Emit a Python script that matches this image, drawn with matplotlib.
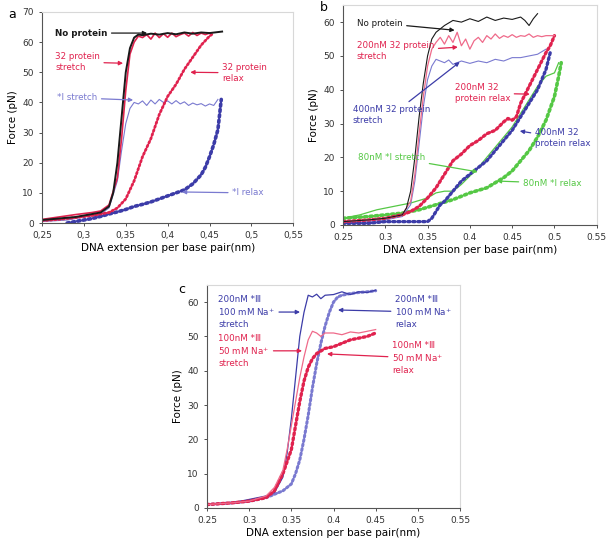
import matplotlib.pyplot as plt

# цвета
BLACK = '#1a1a1a'
RED = '#e0224e'
PINK = '#ef6a8a'
BLUE = '#3c3ca8'
LBLUE = '#7a7ad0'
GREEN = '#55c845'

XTICKS = [0.25, 0.3, 0.35, 0.4, 0.45, 0.5, 0.55]
XTICK_LABELS_A = ['0,25', '0,3', '0,35', '0,4', '0,45', '0,5', '0,55']
XTICK_LABELS = ['0.25', '0.3', '0.35', '0.4', '0.45', '0.5', '0.55']

# ---- панель a ----
a_noprot_x = [0.25, 0.27, 0.29, 0.31, 0.32, 0.33, 0.335, 0.34, 0.345, 0.35, 0.355, 0.36, 0.365, 0.37,
              0.38, 0.39, 0.40, 0.41, 0.42, 0.43, 0.44, 0.45, 0.465]
a_noprot_f = [1, 1.5, 2, 3, 3.5, 5.5, 10, 20, 35, 50, 58, 61.5, 62.5, 62.3,
              62.8, 62.5, 63, 62.6, 63.2, 62.8, 63.2, 63, 63.5]
a_p32s_x = [0.25, 0.27, 0.29, 0.31, 0.32, 0.33, 0.34, 0.345, 0.35, 0.355, 0.36, 0.365, 0.37, 0.375, 0.38,
            0.385, 0.39, 0.395, 0.40, 0.405, 0.41, 0.415, 0.42, 0.425, 0.43, 0.435, 0.44, 0.445, 0.45]
a_p32s_f = [1.2, 2, 2.8, 3.5, 4, 6, 15, 28, 44, 56, 60, 62, 61.5, 62.5, 61,
            63, 61.5, 62.8, 61.6, 63, 61.8, 62.5, 63, 62, 63.2, 62.2, 63, 62.5, 63]
a_p32r_x = [0.25, 0.27, 0.29, 0.31, 0.33, 0.34, 0.35, 0.355, 0.36, 0.365, 0.37, 0.375, 0.38, 0.385,
            0.39, 0.395, 0.40, 0.41, 0.42, 0.43, 0.44, 0.45, 0.455]
a_p32r_f = [0.8, 1.2, 1.8, 2.5, 3.5, 5, 8, 11, 14, 18, 22, 25, 28, 32,
            36, 39, 42, 46, 51, 55, 59, 62, 63]
a_is_x = [0.25, 0.28, 0.30, 0.32, 0.33, 0.34, 0.345, 0.35, 0.355, 0.36, 0.365, 0.37, 0.375, 0.38, 0.385,
          0.39, 0.395, 0.40, 0.405, 0.41, 0.415, 0.42, 0.425, 0.43, 0.435, 0.44, 0.445, 0.45, 0.455, 0.46]
a_is_f = [0.5, 1, 2, 3, 5, 14, 24, 33, 38, 40, 39.5, 40.5, 39, 40.8, 39.5,
          41, 40, 40.5, 39.5, 40.6, 39.5, 40.2, 39, 39.8, 39.2, 39.6, 38.8, 39.5, 39, 41]
a_ir_x = [0.28, 0.29, 0.30, 0.31, 0.32, 0.33, 0.34, 0.35, 0.36, 0.37, 0.38, 0.39, 0.40, 0.41, 0.42,
          0.43, 0.44, 0.445, 0.45, 0.455, 0.46, 0.462, 0.464]
a_ir_f = [0, 0.5, 1, 1.5, 2.2, 3, 3.7, 4.5, 5.5, 6.2, 7, 8, 9, 10, 11,
          13, 16, 18.5, 22, 26, 31, 36, 41]

# ---- панель b ----
b_noprot_x = [0.25, 0.28, 0.30, 0.32, 0.325, 0.33, 0.335, 0.34, 0.345, 0.35, 0.355, 0.36, 0.365, 0.37,
              0.38, 0.39, 0.40, 0.41, 0.42, 0.43, 0.44, 0.45, 0.46, 0.465, 0.47, 0.475, 0.48]
b_noprot_f = [1, 1.5, 2, 3, 5, 10, 20, 32, 42, 50, 55, 57, 58, 59,
              60.5, 60, 61, 60.2, 61.5, 60.5, 61.2, 60.8, 61.5, 60.5, 59, 61, 62.5]
b_200s_x = [0.25, 0.28, 0.30, 0.32, 0.33, 0.335, 0.34, 0.345, 0.35, 0.355, 0.36, 0.365, 0.37, 0.375,
            0.38, 0.385, 0.39, 0.395, 0.40, 0.405, 0.41, 0.415, 0.42, 0.425, 0.43, 0.435, 0.44, 0.445,
            0.45, 0.455, 0.46, 0.465, 0.47, 0.475, 0.48, 0.485, 0.49, 0.5]
b_200s_f = [1, 1.5, 2, 3, 7, 15, 27, 38, 47, 52, 54, 55.5, 53.5, 56,
            54, 57, 53, 55, 52, 54.5, 55.5, 54, 56, 55, 56.5, 55.2, 56, 55.5,
            56.3, 55.5, 56, 55.8, 56.5, 55.5, 56, 55.7, 56, 56]
b_400s_x = [0.25, 0.28, 0.30, 0.32, 0.33, 0.335, 0.34, 0.345, 0.35, 0.355, 0.36, 0.365, 0.37, 0.375,
            0.38, 0.39, 0.40, 0.41, 0.42, 0.43, 0.44, 0.45, 0.46, 0.47, 0.48, 0.49]
b_400s_f = [0.5, 1, 1.5, 2.5, 6, 13, 24, 35, 43, 47, 49, 48.5, 48, 48.8,
            47.5, 48.5, 47.8, 48.5, 48, 49, 48.5, 49.5, 49.5, 50, 50.5, 52]
b_200r_x = [0.25, 0.28, 0.30, 0.32, 0.33, 0.34, 0.35, 0.36, 0.37, 0.375, 0.38, 0.385, 0.39, 0.40,
            0.41, 0.42, 0.43, 0.44, 0.445, 0.45, 0.455, 0.46, 0.47, 0.48, 0.49, 0.495, 0.5]
b_200r_f = [1, 1.5, 2, 3, 4, 5.5, 8, 11, 15, 17, 19, 20, 21, 23.5,
            25, 27, 28, 30.5, 31.5, 31, 32, 36, 41, 46, 51, 53, 56]
b_400r_x = [0.25, 0.28, 0.30, 0.32, 0.34, 0.35, 0.355, 0.36, 0.365, 0.37, 0.38, 0.39, 0.40, 0.41,
            0.42, 0.43, 0.44, 0.45, 0.46, 0.47, 0.48, 0.49, 0.495]
b_400r_f = [0.5, 0.5, 1, 1, 1, 1, 2, 4, 6, 7, 10, 13, 15, 17,
            19, 22, 25, 28, 32, 36, 40, 46, 51]
b_80s_x = [0.25, 0.27, 0.29, 0.31, 0.33, 0.35, 0.36, 0.37, 0.38, 0.39, 0.40, 0.41, 0.42, 0.43,
           0.44, 0.45, 0.46, 0.47, 0.48, 0.49, 0.5, 0.505]
b_80s_f = [2, 3, 4.5, 5.5, 6.5, 8, 9.5, 10, 10, 12, 14.5, 17, 20, 23,
           26, 29, 33, 37, 41, 44, 45, 48]
b_80r_x = [0.25, 0.28, 0.30, 0.32, 0.34, 0.36, 0.38, 0.40, 0.42, 0.43, 0.44, 0.45, 0.46, 0.47,
           0.48, 0.49, 0.50, 0.505, 0.508]
b_80r_f = [2, 2.5, 3, 3.5, 4.5, 6, 7.5, 9.5, 11, 12.5, 14, 16, 19, 22,
           26, 31, 38, 44, 48]

# ---- панель c ----
c_bs_x = [0.25, 0.28, 0.30, 0.32, 0.33, 0.34, 0.345, 0.35, 0.355, 0.36, 0.365, 0.37, 0.375, 0.38,
          0.385, 0.39, 0.40, 0.41, 0.42, 0.43, 0.44, 0.45]
c_bs_f = [1, 1.5, 2.5, 3.5, 4.5, 9, 16, 26, 38, 50, 57, 62, 61.5, 62.3,
          61, 62, 62.2, 63, 62.2, 63, 62.8, 63.5]
c_br_x = [0.25, 0.28, 0.30, 0.32, 0.33, 0.34, 0.35, 0.355, 0.36, 0.365, 0.37, 0.375, 0.38, 0.385,
          0.39, 0.395, 0.40, 0.405, 0.41, 0.42, 0.43, 0.44, 0.45]
c_br_f = [1, 1.5, 2, 3, 4, 5, 7, 10, 14, 20, 27, 35, 42, 48,
          53, 57, 60, 61.5, 62, 62.5, 62.8, 63, 63.3]
c_rs_x = [0.25, 0.28, 0.30, 0.32, 0.33, 0.34, 0.345, 0.35, 0.355, 0.36, 0.365, 0.37, 0.375, 0.38,
          0.385, 0.39, 0.40, 0.41, 0.42, 0.43, 0.44, 0.45]
c_rs_f = [1, 1.5, 2, 3.5, 6, 11, 17, 24, 31, 38, 44, 49, 51.5, 51,
          50, 51, 51, 50.5, 51.3, 51, 51.5, 52]
c_rr_x = [0.25, 0.28, 0.30, 0.32, 0.33, 0.34, 0.35, 0.355, 0.36, 0.365, 0.37, 0.375, 0.38, 0.39,
          0.40, 0.41, 0.42, 0.43, 0.44, 0.45]
c_rr_f = [1, 1.5, 2, 3, 5, 10, 17, 24, 31, 37, 41, 43.5, 45, 46.5,
          47, 48, 49, 49.5, 50, 51]

DOTS = (0, (0.6, 0.9))


def style_axes(ax, ymax, yticks, xlabels):
    ax.set_xlim(0.25, 0.55)
    ax.set_ylim(0, ymax)
    ax.set_xticks(XTICKS)
    ax.set_xticklabels(xlabels)
    ax.set_yticks(yticks)
    ax.tick_params(labelsize=6.5, length=2.5, width=0.6, colors='#333333')
    for s in ['top', 'right']:
        ax.spines[s].set_color('#d8d8d8')
    for s in ['left', 'bottom']:
        ax.spines[s].set_color('#555555')
    for s in ax.spines.values():
        s.set_linewidth(0.8)
    ax.set_xlabel('DNA extension per base pair(nm)', fontsize=7.5, labelpad=2)
    ax.set_ylabel('Force (pN)', fontsize=7.5, labelpad=3)


def note(ax, text, xy, xytext, color, bold=False):
    ax.annotate(text, xy=xy, xytext=xytext, fontsize=6.3, color=color,
                ha='left', va='center', linespacing=1.25,
                fontweight='bold' if bold else 'normal',
                arrowprops=dict(arrowstyle='-|>', color=color, lw=0.9,
                                mutation_scale=6, shrinkA=1, shrinkB=0))


fig = plt.figure(figsize=(6.13, 5.44), dpi=100)

# a
ax = fig.add_axes([0.0685, 0.590, 0.41, 0.388])
ax.plot(a_is_x, a_is_f, color=LBLUE, lw=0.8)
ax.plot(a_ir_x, a_ir_f, color=BLUE, lw=2.6, linestyle=DOTS, dash_capstyle='round')
ax.plot(a_p32r_x, a_p32r_f, color=RED, lw=2.0, linestyle=DOTS, dash_capstyle='round')
ax.plot(a_p32s_x, a_p32s_f, color=RED, lw=1.2)
ax.plot(a_noprot_x, a_noprot_f, color=BLACK, lw=1.4)
style_axes(ax, 70, range(0, 71, 10), XTICK_LABELS_A)
note(ax, 'No protein', (0.3755, 63), (0.2655, 63), BLACK, bold=True)
note(ax, '32 protein\nstretch', (0.3468, 53), (0.2655, 53.4), RED)
note(ax, '32 protein\nrelax', (0.427, 50), (0.465, 49.8), RED)
note(ax, '*I stretch', (0.3588, 40.8), (0.268, 41.5), LBLUE)
note(ax, '*I relax', (0.417, 10.3), (0.477, 10), LBLUE)
fig.text(0.013, 0.985, 'a', fontsize=9, va='top')

# b
ax = fig.add_axes([0.5595, 0.5864, 0.414, 0.404])
ax.plot(b_80s_x, b_80s_f, color=GREEN, lw=0.9)
ax.plot(b_80r_x, b_80r_f, color=GREEN, lw=2.6, linestyle=DOTS, dash_capstyle='round')
ax.plot(b_400s_x, b_400s_f, color=LBLUE, lw=0.8)
ax.plot(b_400r_x, b_400r_f, color=BLUE, lw=2.4, linestyle=DOTS, dash_capstyle='round')
ax.plot(b_200r_x, b_200r_f, color=RED, lw=2.4, linestyle=DOTS, dash_capstyle='round')
ax.plot(b_200s_x, b_200s_f, color=PINK, lw=0.9)
ax.plot(b_noprot_x, b_noprot_f, color=BLACK, lw=0.8)
style_axes(ax, 65, range(0, 61, 10), XTICK_LABELS)
note(ax, 'No protein', (0.382, 57.6), (0.2665, 59.7), BLACK)
note(ax, '200nM 32 protein\nstretch', (0.3858, 52.6), (0.2665, 51.4), RED)
note(ax, '400nM 32 protein\nstretch', (0.388, 48.2), (0.2618, 32.5), BLUE)
note(ax, '200nM 32\nprotein relax', (0.4709, 38.7), (0.382, 39), RED)
note(ax, '400nM 32\nprotein relax', (0.459, 27.8), (0.4768, 25.7), BLUE)
note(ax, '80nM *I stretch', (0.4094, 15.7), (0.2677, 20.1), GREEN)
note(ax, '80nM *I relax', (0.4319, 13), (0.4626, 12.4), GREEN)
fig.text(0.522, 0.998, 'b', fontsize=9, va='top')

# c
ax = fig.add_axes([0.3377, 0.0662, 0.4127, 0.41])
ax.plot(c_br_x, c_br_f, color=LBLUE, lw=2.2, linestyle=DOTS, dash_capstyle='round')
ax.plot(c_bs_x, c_bs_f, color=BLUE, lw=0.9)
ax.plot(c_rr_x, c_rr_f, color=RED, lw=2.4, linestyle=DOTS, dash_capstyle='round')
ax.plot(c_rs_x, c_rs_f, color=PINK, lw=0.9)
style_axes(ax, 65, range(0, 61, 10), XTICK_LABELS)
note(ax, '200nM *\u2162\n100 mM Na$^{+}$\nstretch', (0.3603, 57.1), (0.263, 57.1), BLUE)
note(ax, '200nM *\u2162\n100 mM Na$^{+}$\nrelax', (0.4053, 57.7), (0.4729, 57.1), BLUE)
note(ax, '100nM *\u2162\n50 mM Na$^{+}$\nstretch', (0.3627, 45.8), (0.263, 45.8), RED)
note(ax, '100nM *\u2162\n50 mM Na$^{+}$\nrelax', (0.3923, 44.9), (0.4694, 43.7), RED)
fig.text(0.29, 0.48, 'c', fontsize=9, va='top')

fig.savefig('out.png', dpi=100)
